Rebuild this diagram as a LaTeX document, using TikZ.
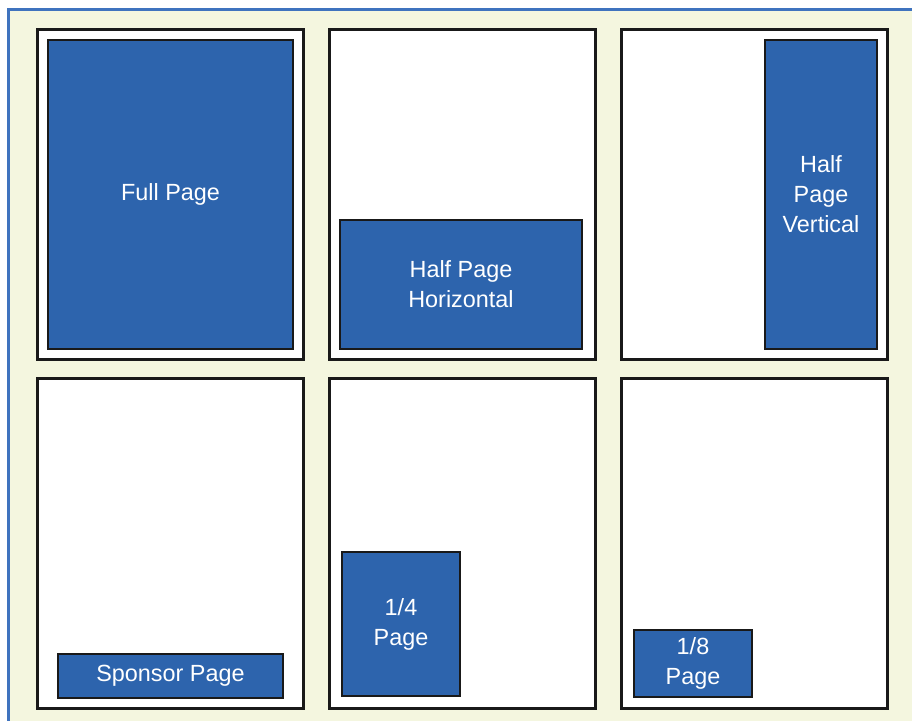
\documentclass[tikz,border=0pt]{standalone}
\usepackage{fontspec}
\setmainfont{Liberation Sans}
\definecolor{bgbeige}{HTML}{F4F6DF}
\definecolor{frameblue}{HTML}{3F73BE}
\definecolor{adblue}{HTML}{2D64AD}
\tikzset{
  pagebox/.style={draw=black!90, line width=1.4pt, fill=white, anchor=center, inner sep=0pt, outer sep=0pt},
  adbox/.style={draw=black!90, line width=1.2pt, fill=adblue, anchor=center, inner sep=0pt, outer sep=0pt,
    text=white, font=\fontsize{11.7}{15}\selectfont, align=center},
}
\newcommand{\boxnode}[8]{% name, style, linewidth(pt), x1, y1, x2, y2, text
  \pgfmathsetmacro{\bw}{(#6-#4)*0.5-#3}
  \pgfmathsetmacro{\bh}{(#7-#5)*0.5-#3}
  \node[#2, minimum width=\bw pt, minimum height=\bh pt] (#1) at ({(#4+#6)/2},{(#5+#7)/2}) {#8};
}
\begin{document}
\begin{tikzpicture}[x=0.5pt, y=-0.5pt]
\useasboundingbox (0,0) rectangle (912,721);
\fill[white] (0,0) rectangle (912,721);
\fill[bgbeige] (8,10) rectangle (930,740);
\draw[frameblue, line width=1.5pt] (8,10) rectangle (930,740);
% pages
\boxnode{p1}{pagebox}{1.4}{36}{28}{305}{361}{}
\boxnode{p2}{pagebox}{1.4}{328}{28}{597}{361}{}
\boxnode{p3}{pagebox}{1.4}{620}{28}{889}{361}{}
\boxnode{p4}{pagebox}{1.4}{36}{377}{305}{710}{}
\boxnode{p5}{pagebox}{1.4}{328}{377}{597}{710}{}
\boxnode{p6}{pagebox}{1.4}{620}{377}{889}{710}{}
% ads
\boxnode{full}{adbox}{1.2}{47}{39}{294}{350}{Full Page}
\boxnode{halfh}{adbox}{1.2}{339}{219}{583}{350}{Half Page\\Horizontal}
\boxnode{halfv}{adbox}{1.2}{764}{39}{878}{350}{Half\\Page\\Vertical}
\boxnode{sponsor}{adbox}{1.2}{57}{653}{284}{699}{Sponsor Page}
\boxnode{quarter}{adbox}{1.2}{341}{551}{461}{697}{1/4\\Page}
\boxnode{eighth}{adbox}{1.2}{633}{629}{753}{698}{1/8\\Page}
\end{tikzpicture}
\end{document}
